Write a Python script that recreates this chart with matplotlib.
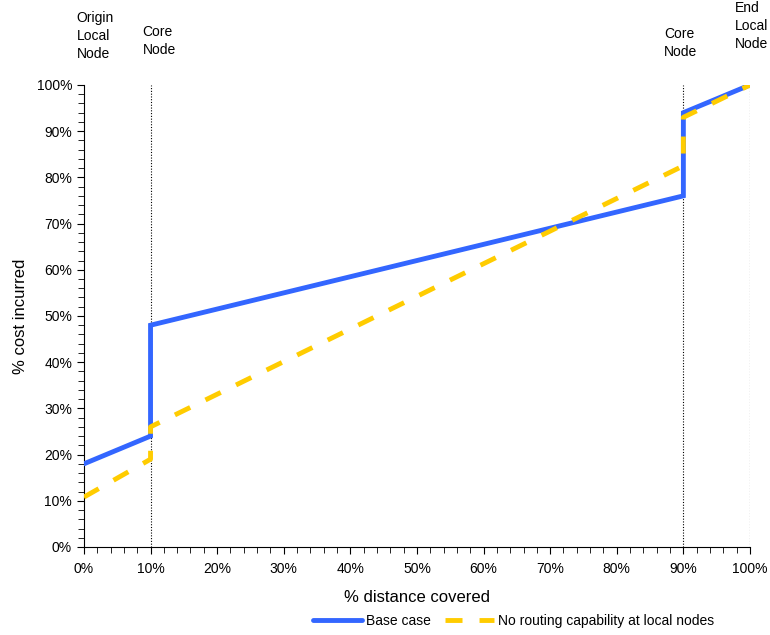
import matplotlib.pyplot as plt
import matplotlib.transforms as mtransforms
from matplotlib.ticker import MultipleLocator, PercentFormatter

plt.rcParams['font.family'] = ['Liberation Sans', 'DejaVu Sans']

# data (% distance covered, % cost incurred)
base_x = [0, 10, 10, 90, 90, 100]
base_y = [18, 24, 48, 76, 94, 100]
norout_x = [0, 10, 10, 90, 90, 100]
norout_y = [10.8, 19, 26, 82.5, 93, 100]

nodes_x = [10, 90, 100]
node_labels = ["Origin\nLocal\nNode", "Core\nNode", "Core\nNode", "End\nLocal\nNode"]
label_x = [-1.1, 8.8, 87.1, 97.7]
label_y = [0.982, 0.96, 0.958, 0.998]

fig = plt.figure(figsize=(7.7, 6.35), dpi=100)
ax = fig.add_axes([0.109, 0.1386, 0.865, 0.7276])

for nx in nodes_x:
    ax.axvline(nx, color='black', lw=0.8, ls=(0, (1, 1.5)), zorder=1)

ax.plot(base_x, base_y, color='#3366FF', lw=3.5, solid_capstyle='round',
        solid_joinstyle='miter', label='Base case', zorder=3)
ax.plot(norout_x, norout_y, color='#FFCC00', lw=3.5, ls=(0, (3.5, 3.5)),
        label='No routing capability at local nodes', zorder=4)

ax.set_xlim(0, 100)
ax.set_ylim(0, 100)
ax.xaxis.set_major_locator(MultipleLocator(10))
ax.xaxis.set_minor_locator(MultipleLocator(2))
ax.yaxis.set_major_locator(MultipleLocator(10))
ax.yaxis.set_minor_locator(MultipleLocator(2))
ax.xaxis.set_major_formatter(PercentFormatter(decimals=0))
ax.yaxis.set_major_formatter(PercentFormatter(decimals=0))
ax.tick_params(which='major', length=5, labelsize=10, colors='black')
ax.tick_params(axis='x', which='major', pad=6)
ax.tick_params(which='minor', length=4)
ax.spines['top'].set_visible(False)
ax.spines['right'].set_visible(False)

ax.set_xlabel('% distance covered', fontsize=12, labelpad=10)
ax.set_ylabel('% cost incurred', fontsize=12, labelpad=6)

trans = mtransforms.blended_transform_factory(ax.transData, fig.transFigure)
for lx, ly, txt in zip(label_x, label_y, node_labels):
    ax.text(lx, ly, txt, transform=trans, fontsize=10, ha='left', va='top',
            linespacing=1.35)

fig.legend(loc='center', bbox_to_anchor=(0.667, 0.022), ncol=2, frameon=False,
           fontsize=10, handlelength=3.5, columnspacing=1.0, handletextpad=0.3)

fig.savefig('out.png', dpi=100)
